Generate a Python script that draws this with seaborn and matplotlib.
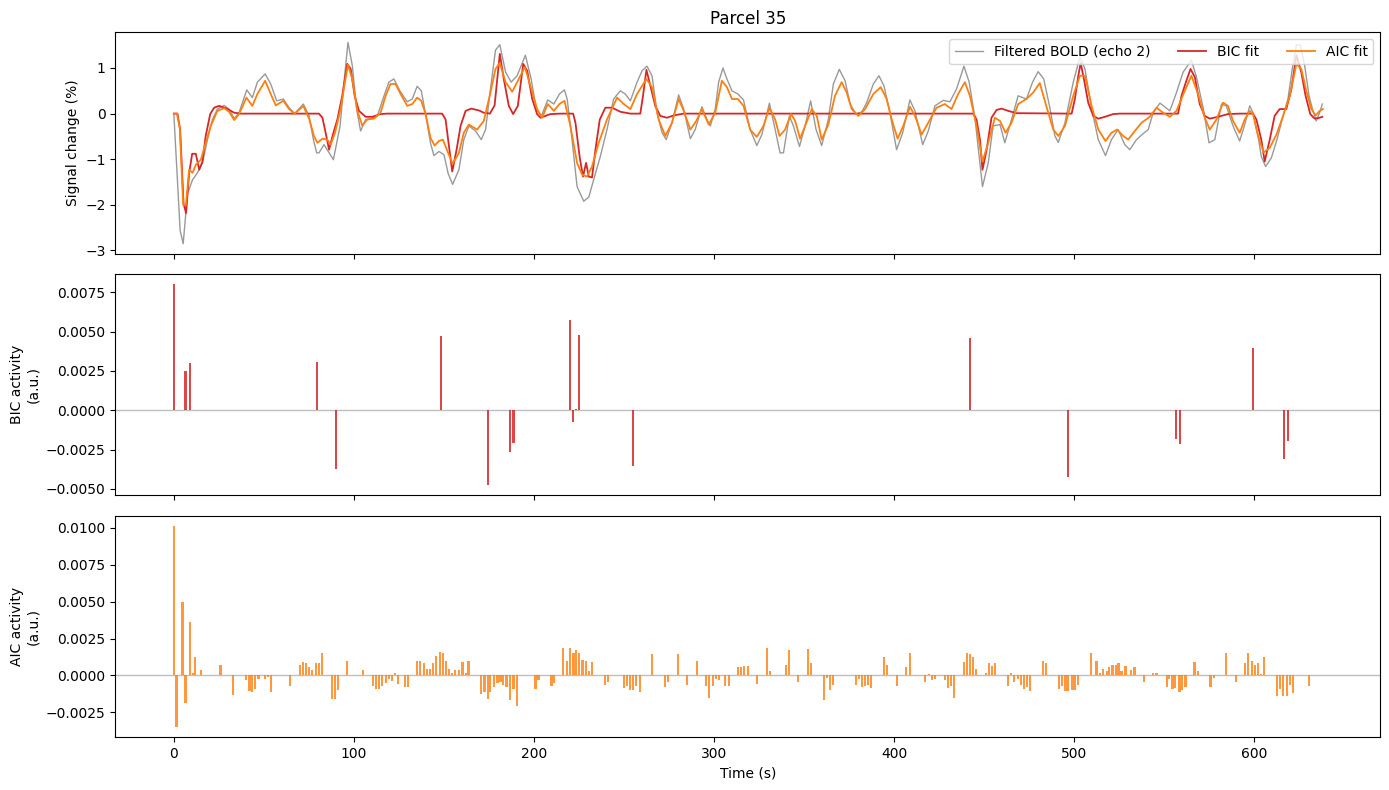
import matplotlib
matplotlib.use("Agg")
import matplotlib.pyplot as plt
import seaborn as sns
import pandas as pd

# --- data (time in s, signal change in %) ---
bold_t = [0, 3.5, 5.2, 7.6, 10.4, 13.1, 15.9, 18.7, 21.4, 24.2, 27.9, 30.7, 33.5, 36.2, 40.5, 43.6, 46.4, 50.7,
          53.8, 57.1, 60.8, 64.0, 67.1, 71.9, 75.1, 77.5, 79.3, 80.6, 83.4, 86.2, 88.6, 92.3, 94.5, 96.7, 99.1,
          101.5, 103.7, 106.5, 109.3, 113.0, 116.7, 119.4, 122.2, 125.5, 129.6, 132.4, 135.1, 137.4, 139.8,
          142.5, 144.4, 147.2, 150.0, 152.3, 154.8, 158.3, 161.0, 163.8, 167.5, 170.7, 173.1, 175.8, 178.6,
          181.0, 184.2, 187.3, 190.6, 195.2, 198.4, 201.2, 204.1, 207.6, 211.0, 214.1, 216.9, 218.4, 221.1,
          223.9, 227.6, 230.4, 233.1, 236.8, 240.5, 244.2, 247.9, 250.7, 253.5, 257.2, 260.0, 262.7, 265.5,
          268.3, 271.1, 273.4, 276.6, 280.3, 283.1, 286.8, 289.5, 293.2, 296.0, 297.9, 300.6, 302.5, 304.9,
          307.1, 309.9, 313.2, 316.3, 320.0, 323.7, 326.5, 330.7, 333.9, 336.6, 338.5, 341.8, 344.0, 347.4,
          350.5, 353.6, 356.6, 359.7, 363.4, 366.2, 369.5, 372.7, 375.5, 378.8, 382.0, 384.7, 388.4, 391.5,
          394.3, 397.6, 401.3, 404.7, 408.7, 411.5, 415.8, 418.9, 422.6, 427.2, 430.9, 434.6, 438.7, 441.6,
          444.8, 449.0, 452.2, 454.9, 458.7, 461.4, 465.1, 468.8, 473.4, 476.8, 479.9, 483.0, 486.4, 489.2,
          491.1, 494.8, 499.4, 503.1, 505.9, 509.6, 513.3, 517.3, 520.6, 524.3, 528.0, 530.8, 534.5, 538.2,
          541.0, 543.8, 547.5, 550.2, 553.0, 556.7, 560.4, 565.0, 567.8, 571.5, 574.8, 578.0, 581.7, 584.4,
          588.1, 591.8, 594.6, 597.4, 599.2, 602.0, 603.8, 606.2, 609.4, 612.5, 615.9, 618.6, 621.0, 623.3,
          625.5, 627.9, 630.3, 632.5, 634.3, 636.2, 637.7]
bold_v = [0, -2.56, -2.85, -1.75, -1.45, -1.3, -1.08, -0.57, -0.13, 0.1, 0.18, 0.1, -0.11, 0.02, 0.52, 0.35, 0.69,
          0.87, 0.65, 0.28, 0.32, 0.13, 0.0, 0.21, -0.05, -0.57, -0.86, -0.86, -0.68, -0.86, -1.01, -0.27, 0.69,
          1.56, 1.05, 0.1, -0.38, -0.13, -0.11, -0.05, 0.39, 0.69, 0.76, 0.5, 0.26, 0.32, 0.6, 0.5, -0.01,
          -0.64, -0.92, -0.83, -0.9, -1.31, -1.55, -1.23, -0.57, -0.27, -0.38, -0.57, -0.35, 0.54, 1.39,
          1.51, 0.91, 0.69, 0.83, 1.28, 0.76, 0.1, -0.05, 0.3, 0.21, 0.43, 0.52, 0.32, -0.57,
          -1.6, -1.92, -1.83, -1.45, -0.94, -0.35, 0.32, 0.5, 0.43, 0.28, 0.69, 0.94, 1.04, 0.83,
          0.02, -0.42, -0.57, -0.2, 0.41, 0.1, -0.55, -0.35, 0.15, -0.13, -0.27, 0.1, 0.69, 1.0,
          0.76, 0.5, 0.43, 0.3, -0.35, -0.7, -0.46, 0.23, -0.35, -0.86, -0.86, -0.05, -0.27, -0.72,
          -0.27, 0.28, -0.35, -0.7, -0.13, 0.65, 0.97, 0.72, 0.21, -0.01, 0.04, 0.24, 0.65, 0.83,
          0.61, 0.02, -0.79, -0.42, 0.3, 0.06, -0.68, -0.38, 0.17, 0.29, 0.26, 0.54, 1.04, 0.69,
          -0.09, -1.6, -1.08, -0.27, -0.24, -0.64, -0.13, 0.39, 0.32, 0.69, 0.92, 0.76, 0.13, -0.49,
          -0.63, -0.2, 0.69, 1.24, 0.98, 0.1, -0.57, -0.92, -0.57, -0.35, -0.68, -0.79, -0.57, -0.44,
          -0.35, 0.02, 0.23, 0.15, 0.06, 0.46, 0.91, 1.17, 0.8, 0.13, -0.64, -0.57, 0.21, 0.17,
          -0.27, -0.6, -0.24, 0.17, 0.02, -0.49, -0.94, -1.16, -0.97, -0.57, -0.05, 0.32, 0.98, 1.51,
          1.5, 1.05, 0.39, 0.06, -0.16, 0.02, 0.21]

aic_fit_t = [0, 1.7, 3.3, 5.2, 6.7, 8.5, 10.4, 12.2, 15.0, 17.7, 20.5, 24.2, 27.9, 30.7, 33.5, 36.2, 40.3, 43.6,
             46.4, 50.7, 53.8, 56.6, 60.8, 64.0, 67.1, 71.9, 75.1, 77.8, 79.7, 82.5, 85.2, 87.1, 89.5, 92.6,
             95.0, 96.7, 99.1, 101.9, 104.6, 107.4, 111.1, 114.8, 117.6, 120.3, 123.1, 125.9, 129.6, 132.4,
             135.1, 137.4, 139.8, 142.5, 144.8, 147.2, 149.4, 152.3, 154.8, 158.3, 161.0, 163.8, 168.4,
             172.1, 175.8, 178.6, 181.0, 184.2, 187.9, 191.5, 194.9, 198.0, 201.7, 204.5, 207.6, 211.0,
             214.1, 216.9, 220.2, 223.9, 226.7, 229.4, 232.2, 235.9, 240.5, 246.1, 249.8, 253.5, 257.2,
             262.4, 265.5, 269.2, 272.9, 276.6, 280.3, 283.1, 286.8, 290.1, 293.2, 297.0, 300.6, 304.3,
             307.1, 309.9, 313.2, 316.3, 320.0, 323.7, 327.4, 330.7, 333.9, 336.3, 339.4, 342.7, 345.0,
             347.7, 350.5, 354.2, 357.0, 359.7, 363.4, 367.1, 370.8, 373.6, 376.4, 380.1, 383.8, 388.4,
             392.5, 395.8, 398.6, 401.9, 405.0, 408.7, 411.5, 415.2, 418.9, 423.5, 428.1, 431.8, 435.5,
             439.2, 442.0, 445.7, 449.0, 452.2, 455.9, 458.7, 461.8, 465.1, 468.8, 473.4, 477.1, 480.8,
             484.4, 488.3, 491.1, 494.8, 499.4, 503.1, 505.9, 509.6, 513.3, 517.3, 520.6, 523.8, 527.1,
             529.9, 533.6, 537.3, 541.9, 545.6, 549.3, 553.0, 556.7, 561.3, 565.0, 568.7, 572.4, 575.2,
             578.9, 582.6, 585.3, 588.1, 591.8, 594.6, 597.4, 599.2, 602.0, 605.1, 608.5, 612.2, 615.9,
             619.6, 623.3, 626.0, 628.8, 631.6, 634.0, 636.2, 638.0]
aic_fit_v = [0, 0, -0.31, -2.0, -2.0, -1.23, -1.3, -1.12, -1.01, -0.64, -0.27, 0.06, 0.12, 0.04, -0.14, -0.01, 0.35,
             0.17, 0.43, 0.72, 0.43, 0.18, 0.28, 0.1, 0.0, 0.17, -0.11, -0.49, -0.64, -0.55, -0.57, -0.68,
             -0.42, 0.1, 0.69, 1.07, 0.76, 0.06, -0.26, -0.13, -0.11, 0.02, 0.39, 0.65, 0.65, 0.43, 0.17,
             0.21, 0.35, 0.28, -0.01, -0.53, -0.7, -0.6, -0.57, -0.86, -1.1, -0.86, -0.42, -0.24, -0.35,
             -0.16, 0.46, 0.98, 1.11, 0.69, 0.48, 0.76, 1.02, 0.61, 0.1, -0.09, 0.21, 0.06, 0.21, 0.28,
             -0.27, -1.08, -1.34, -1.38, -1.16, -0.64, -0.13, 0.35, 0.21, 0.1, 0.43, 0.76, 0.58, -0.13,
             -0.49, -0.2, 0.32, 0.06, -0.35, -0.16, 0.1, -0.24, 0.02, 0.72, 0.58, 0.32, 0.32, 0.17, -0.35,
             -0.51, -0.27, 0.13, -0.13, -0.49, -0.35, -0.01, -0.16, -0.55, -0.27, 0.1, -0.05, -0.57,
             -0.24, 0.39, 0.69, 0.46, 0.1, -0.05, 0.1, 0.43, 0.58, 0.32, -0.13, -0.55, -0.27, 0.15,
             -0.05, -0.46, -0.2, 0.13, 0.21, 0.1, 0.43, 0.69, 0.39, -0.27, -1.05, -0.64, -0.09, -0.16,
             -0.42, -0.2, 0.21, 0.32, 0.46, 0.67, 0.17, -0.35, -0.49, -0.27, 0.39, 0.83, 0.83, 0.17,
             -0.35, -0.6, -0.42, -0.35, -0.49, -0.57, -0.38, -0.2, -0.07, 0.13, 0.02, -0.07, 0.06, 0.5,
             0.83, 0.43, -0.09, -0.35, -0.13, 0.24, 0.17, -0.16, -0.42, -0.13, 0.06, -0.01, -0.49, -0.85,
             -0.75, -0.46, -0.05, 0.39, 1.09, 0.98, 0.5, 0.1, -0.04, 0.06, 0.1]

bic_fit_t = [0, 2.0, 3.5, 5.4, 6.8, 8.5, 10.2, 12.2, 14.1, 15.9, 17.7, 20.2, 22.4, 25.1, 28.8, 33.5, 37.2, 80.6,
             82.5, 84.3, 86.2, 88.6, 90.8, 93.5, 96.3, 98.2, 100.4, 102.8, 106.5, 110.2, 114.8, 118.5, 149.0,
             150.9, 152.3, 154.6, 157.0, 159.2, 162.0, 165.1, 169.4, 172.1, 175.5, 178.1, 181.0, 183.2,
             186.0, 188.4, 191.0, 194.0, 196.2, 199.0, 201.7, 203.6, 209.1, 214.7, 221.7, 223.0, 225.4,
             227.2, 228.9, 230.4, 232.2, 234.1, 236.5, 239.6, 243.3, 248.0, 253.5, 259.0, 260.5, 262.4,
             264.6, 267.3, 270.1, 273.8, 277.5, 283.1, 443.9, 445.7, 447.6, 449.0, 451.3, 454.0, 456.8,
             459.6, 463.3, 467.9, 498.5, 500.3, 502.2, 503.5, 505.3, 507.7, 510.5, 513.3, 517.0, 521.6,
             525.3, 557.6, 559.5, 562.2, 564.5, 566.9, 569.6, 572.4, 575.2, 579.8, 585.3, 591.8, 599.2,
             601.1, 603.8, 605.7, 608.5, 611.2, 614.0, 617.7, 620.5, 623.3, 626.0, 628.4, 631.0, 633.4,
             636.2, 637.7]
bic_fit_v = [0, 0, -0.35, -1.97, -2.18, -1.3, -0.88, -0.88, -1.23, -1.05, -0.49, -0.01, 0.13, 0.17, 0.12, 0.02, 0.0,
             0.0, -0.09, -0.42, -0.79, -0.42, -0.13, 0.39, 1.09, 0.98, 0.39, 0.06, -0.07, -0.07, -0.01, 0.0,
             0.0, -0.13, -0.57, -1.27, -0.79, -0.27, 0.06, 0.11, 0.07, 0.02, 0.0, 0.18, 1.31, 0.76, 0.17,
             -0.01, 0.17, 1.09, 0.94, 0.32, -0.01, -0.09, -0.01, 0.0, 0.0, -0.2, -0.97, -1.38, -1.08,
             -1.38, -1.4, -0.79, -0.13, 0.13, 0.13, 0.04, 0.0, 0.0, 0.39, 0.96, 0.61, 0.17, -0.05, -0.09,
             -0.04, 0.0, 0.0, -0.13, -0.57, -1.23, -0.79, -0.09, 0.08, 0.11, 0.06, 0.01, 0.0, 0.32, 0.83,
             1.11, 0.76, 0.24, -0.05, -0.11, -0.07, -0.01, 0.0, 0.0, 0.39, 0.72, 0.98, 0.8, 0.21, -0.05,
             -0.11, -0.07, -0.01, 0.0, 0.0, -0.13, -0.57, -1.05, -0.57, -0.05, 0.1, 0.1, 0.54, 1.28, 0.91,
             0.39, -0.01, -0.11, -0.09, -0.07]

# BIC activity (a.u.)
bic_t = [0.0, 6.5, 8.9, 79.3, 89.8, 148.1, 174.2, 186.4, 188.6, 220.2, 221.8, 223.5, 225.2, 255.1,
         442.0, 496.4, 556.3, 558.5, 599.0, 616.2, 618.4]
bic_v = [0.00801, 0.00248, 0.00299, 0.00305, -0.00375, 0.00471, -0.00477, -0.00267, -0.0021, 0.00573,
         -0.00076, 0.00006, 0.00477, -0.00356, 0.00458, -0.00426, -0.00184, -0.00216, 0.00394, -0.00312,
         -0.00197]

# AIC activity (a.u.)
aic_t = [0.0, 1.5, 4.8, 6.5, 8.9, 10.5, 12.0, 15.3, 25.9, 33.1, 40.3, 42.0, 43.6, 45.3, 47.0, 50.8, 52.5, 54.2,
         64.7, 70.3, 71.9, 73.6, 75.2, 76.9, 79.1, 80.8, 82.5, 88.0, 89.7, 91.3, 96.3, 105.2, 110.7, 112.4,
         114.1, 115.7, 117.9, 119.6, 121.3, 122.9, 124.6, 128.5, 130.2, 135.1, 136.8, 139.0, 140.7, 142.4,
         144.0, 145.7, 147.9, 149.6, 151.2, 152.9, 154.6, 156.2, 158.4, 160.3, 162.0, 163.6, 170.8, 172.5,
         174.2, 175.8, 178.0, 179.7, 181.4, 183.0, 184.7, 186.4, 188.6, 190.3, 200.8, 202.5, 209.7, 211.3,
         216.3, 218.5, 220.2, 221.9, 223.5, 225.2, 226.9, 229.1, 230.7, 232.4, 239.6, 241.3, 250.2, 251.8,
         253.5, 255.1, 256.8, 259.0, 265.7, 272.9, 274.6, 280.1, 285.1, 290.6, 295.6, 297.3, 299.5, 301.2,
         302.8, 306.2, 308.4, 313.4, 315.0, 316.7, 318.9, 323.9, 329.4, 331.1, 340.0, 341.6, 346.6, 352.2,
         353.8, 361.0, 362.7, 364.4, 366.0, 378.8, 380.4, 382.1, 383.8, 385.4, 387.1, 394.3, 396.0, 401.5,
         406.5, 408.7, 417.1, 419.3, 420.9, 422.6, 428.1, 429.8, 431.5, 433.1, 438.7, 440.4, 442.0, 443.7,
         445.3, 450.9, 452.5, 454.2, 455.9, 463.1, 464.7, 466.4, 468.6, 470.3, 471.9, 473.6, 475.3, 482.5,
         484.2, 491.4, 492.9, 494.6, 496.2, 498.5, 500.1, 501.8, 509.0, 512.3, 514.0, 515.7, 517.9, 519.5,
         521.2, 522.9, 524.5, 526.2, 528.4, 531.7, 533.4, 538.9, 543.9, 545.6, 551.2, 552.8, 554.5, 556.1,
         558.4, 560.0, 561.7, 566.7, 568.9, 575.6, 577.8, 584.4, 590.0, 595.0, 596.6, 598.9, 600.5, 602.2,
         603.8, 605.5, 612.7, 614.4, 616.0, 618.2, 619.9, 621.6, 630.5]
aic_v = [0.01013, -0.00349, 0.0050, -0.00187, 0.00365, 0.00014, 0.00128, 0.00034, 0.00074, -0.00135, -0.00034,
         -0.00106, -0.00113, -0.00092, -0.00025, -0.00025, -0.00011, -0.00113, -0.00072, 0.00074, 0.00088,
         0.00081, 0.00054, 0.00034, 0.00081, 0.00081, 0.00155, -0.0016, -0.0016, -0.00099, 0.00101, 0.00034,
         -0.00072, -0.00092, -0.00092, -0.00072, -0.00052, -0.00025, -0.00038, 0.00014, -0.00059, -0.00079,
         -0.00079, 0.00101, 0.00095, 0.00081, 0.00041, 0.00041, 0.00081, 0.00135, 0.00162, 0.00149, 0.00101,
         0.00047, 0.0002, 0.00034, 0.00034, 0.00088, 0.0002, 0.00101, -0.00128, -0.00115, -0.00162, -0.00115,
         -0.00081, -0.00052, -0.00045, -0.00068, -0.00081, -0.00169, -0.00095, -0.00209, -0.00095, -0.00034,
         -0.00072, -0.00052, 0.00189, 0.00095, 0.00189, 0.00149, 0.00169, 0.00149, 0.00108, 0.00101, 0.00027,
         0.00088, -0.00068, -0.00041, -0.00088, -0.00074, -0.00101, -0.00101, -0.00074, -0.00115, 0.00142,
         -0.00081, -0.00047, 0.00142, -0.00068, 0.00101, -0.00074, -0.00155, -0.00074, -0.00027, -0.00034,
         -0.00074, -0.00074, 0.00054, 0.00054, 0.00061, 0.00061, -0.00061, 0.00189, 0.00027, 0.00074, 0.00169,
         -0.00047, 0.00176, 0.00081, -0.00169, -0.0002, -0.00101, -0.00068, -0.00068, -0.00027, -0.00081,
         -0.00074, -0.00068, -0.00088, 0.00122, 0.00074, -0.00074, 0.00054, 0.00149, -0.00047, 0.00007,
         -0.00034, -0.00027, -0.00034, -0.00088, -0.00074, -0.00155, 0.00088, 0.00155, 0.00142, 0.00128,
         0.00041, 0.00014, 0.00081, 0.00061, 0.00081, -0.00074, 0.00014, -0.00047, -0.00027, -0.00068,
         -0.00095, -0.00081, -0.00108, 0.00095, 0.00081, -0.00095, -0.00074, -0.00108, -0.00108, -0.00101,
         -0.00101, -0.00068, 0.00155, 0.00101, 0.00014, 0.00041, 0.00027, 0.00054, 0.00074, 0.00074, 0.00081,
         0.00027, 0.00061, 0.00034, 0.00054, -0.00041, 0.0002, 0.00014, -0.00081, -0.00027, -0.00095, -0.00088,
         -0.00115, -0.00101, -0.00081, 0.00088, 0.00027, -0.00081, -0.00014, 0.00155, -0.00047, 0.00081,
         0.00155, 0.00101, 0.00074, 0.00081, 0.00007, 0.00122, -0.00142, -0.00095, -0.00142, -0.00142,
         -0.00068, -0.00122, -0.00074]

bold_df = pd.DataFrame({"t": bold_t, "v": bold_v})
aic_fit_df = pd.DataFrame({"t": aic_fit_t, "v": aic_fit_v})
bic_fit_df = pd.DataFrame({"t": bic_fit_t, "v": bic_fit_v})

fig, axes = plt.subplots(3, 1, figsize=(13.89, 7.9), dpi=100, sharex=True)
fig.subplots_adjust(left=0.083, right=0.9938, top=0.959, bottom=0.067, hspace=0.092)

# top: signal + fits
ax = axes[0]
sns.lineplot(data=bold_df, x="t", y="v", ax=ax, color="gray", alpha=0.8, lw=1.0,
             estimator=None, label="Filtered BOLD (echo 2)")
sns.lineplot(data=bic_fit_df, x="t", y="v", ax=ax, color="tab:red", lw=1.3,
             estimator=None, label="BIC fit")
sns.lineplot(data=aic_fit_df, x="t", y="v", ax=ax, color="tab:orange", lw=1.3,
             estimator=None, label="AIC fit")
ax.set_ylabel("Signal change (%)")
ax.set_xlabel("")
ax.set_title("Parcel 35")
ax.legend(loc="upper right", ncol=3)

# middle: BIC activity
ax = axes[1]
ax.axhline(0, color="0.75", lw=1, zorder=0)
ax.bar(bic_t, bic_v, width=1.15, color="tab:red", alpha=0.85)
ax.set_ylabel("BIC activity\n(a.u.)")

# bottom: AIC activity
ax = axes[2]
ax.axhline(0, color="0.75", lw=1, zorder=0)
ax.bar(aic_t, aic_v, width=1.15, color="tab:orange", alpha=0.8)
ax.set_ylabel("AIC activity\n(a.u.)")
ax.set_xlabel("Time (s)")

fig.savefig("out.png", dpi=100)
